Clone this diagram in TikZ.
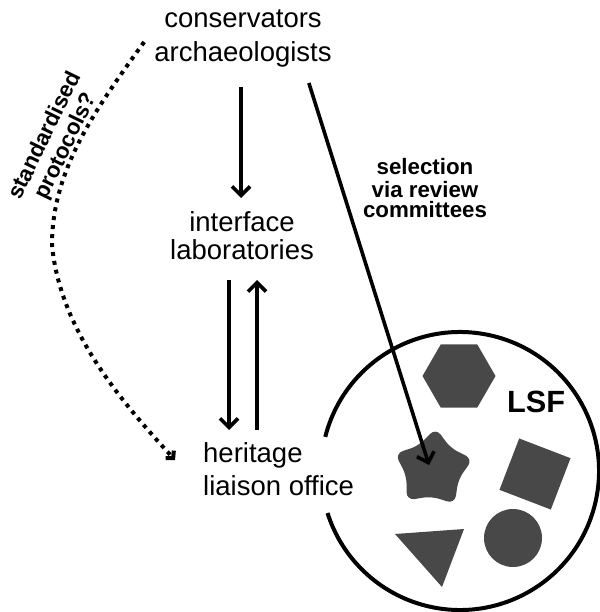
\documentclass[tikz,border=0pt]{standalone}
\usepackage{fontspec}
\setmainfont{Liberation Sans}
\usetikzlibrary{shapes.geometric,arrows.meta,calc}
\definecolor{shapegray}{HTML}{484848}
\begin{document}
\begin{tikzpicture}[x=1pt,y=-1pt,
  lbl/.style={font=\fontsize{27.5}{33}\selectfont, inner sep=0, anchor=base},
  bl/.style={font=\bfseries\fontsize{22.3}{22}\selectfont, inner sep=0, anchor=base},
  arr/.style={line width=3.6pt, -{Straight Barb[length=9pt,width=18pt]}},
  dotarr/.style={line width=4pt, dash pattern=on 4pt off 5pt, -{Straight Barb[length=5pt,width=11pt]}},
  shp/.style={fill=shapegray, draw=none, inner sep=0}]
\useasboundingbox (0,0) rectangle (599,612);

% LSF circle with gap at the office label
\draw[line width=4pt] (460,471) ++(194.2:139) arc[start angle=194.2, end angle=522.4, radius=139];

% texts
\node[lbl] (cons) at (243,28) {conservators};
\node[lbl] (arch) at (243,62) {archaeologists};
\node[lbl] (intf) at (242,231) {interface};
\node[lbl] (labs) at (242,259) {laboratories};
\node[lbl, anchor=base west] (her) at (203,462) {heritage};
\node[lbl, anchor=base west] (lia) at (203,495) {liaison office};
\node[bl] (sel1) at (425,175) {selection};
\node[bl] (sel2) at (425,197) {via review};
\node[bl] (sel3) at (425,218) {committees};
\node[font=\bfseries\fontsize{22.3}{23}\selectfont, inner sep=0, align=center, rotate=64] (std) at (56,141) {standardised\\protocols?};
\node[font=\bfseries\fontsize{30.7}{32}\selectfont, inner sep=0, anchor=base west] (lsf) at (507,412) {LSF};

% shapes inside LSF
\node[shp, regular polygon, regular polygon sides=6, minimum size=73pt] (hex) at (459,376) {};
\node[shp, star, star points=5, star point ratio=1.5, minimum size=82pt, rounded corners=8pt, rotate=-4] (star) at (433,469) {};
\node[shp, rectangle, minimum width=55pt, minimum height=55pt, rotate=-21] (sq) at (535,474) {};
\node[shp, circle, minimum size=58pt] (disk) at (513,538) {};
\fill[shapegray] (395,534) coordinate (t1) -- (464,529) coordinate (t2) -- (442,587) coordinate (t3) -- cycle;

% connectors
\draw[arr] ([xshift=-2pt,yshift=-25pt]arch.base) -- ([xshift=-1pt,yshift=33pt]intf.base);
\draw[arr] ([xshift=-13pt,yshift=-21pt]labs.base) -- ([xshift=26pt,yshift=32pt]her.base west);
\draw[arr] ([xshift=54pt,yshift=32pt]her.base west) -- ([xshift=15pt,yshift=-21pt]labs.base);
\draw[arr] ([xshift=-23pt,yshift=-21pt]arch.base east) -- ([xshift=-4pt,yshift=4pt]star.center);
\coordinate (bend) at (52,245);
\draw[dotarr] ([xshift=-10pt,yshift=20pt]arch.base west) .. controls (95,110) and (52,170) .. (bend)
  .. controls (60,330) and (120,400) .. ([xshift=-28pt,yshift=2pt]her.base west);
\end{tikzpicture}
\end{document}
